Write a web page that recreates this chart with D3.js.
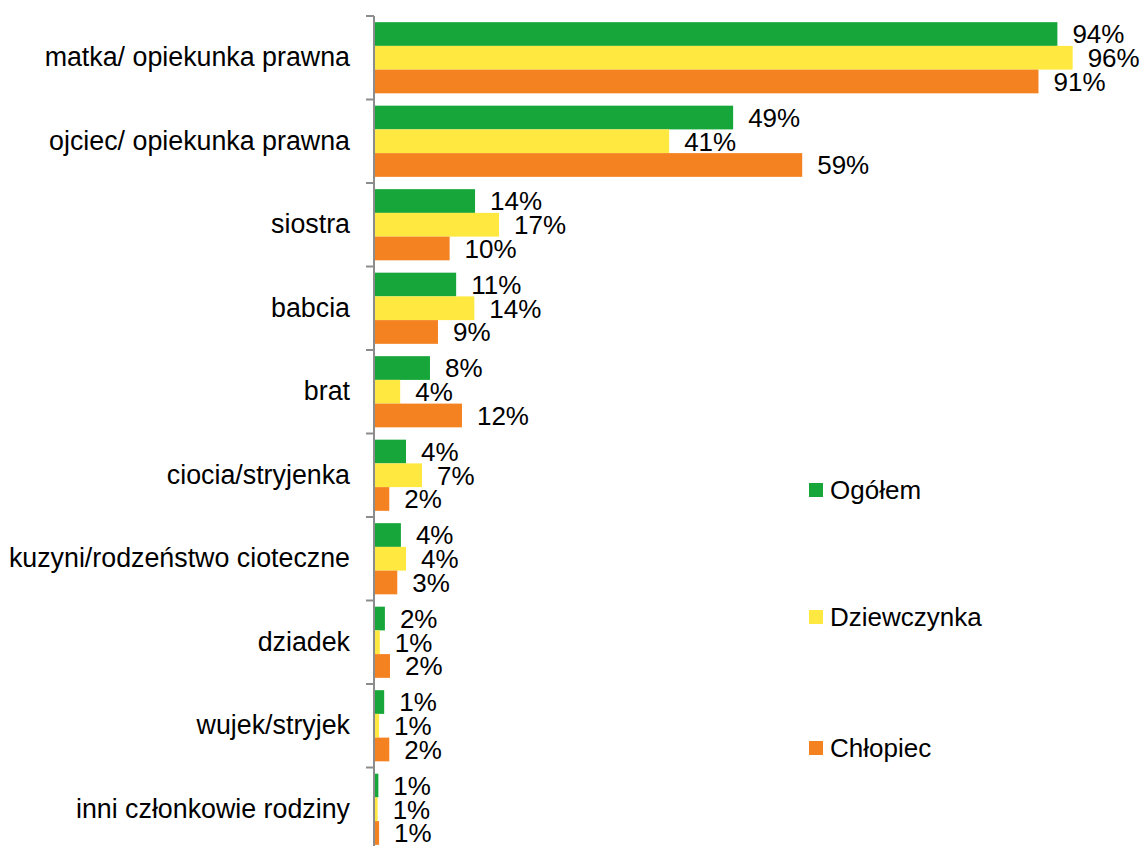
<!DOCTYPE html>
<html>
<head>
<meta charset="utf-8">
<script src="https://cdn.jsdelivr.net/npm/d3@7"></script>
<style>
  body { margin: 0; background: #fff; }
  text { font-family: "Liberation Sans", Arial, sans-serif; fill: #000; }
</style>
</head>
<body>
<div id="chart"></div>
<script>
// categories and series (values in %)
var categories = ["matka/ opiekunka prawna", "ojciec/ opiekunka prawna", "siostra", "babcia", "brat",
  "ciocia/stryjenka", "kuzyni/rodzeństwo cioteczne", "dziadek", "wujek/stryjek", "inni członkowie rodziny"];
var seriesNames = ["Ogółem", "Dziewczynka", "Chłopiec"];
var ogolem = [94.0, 49.4, 13.9, 11.3, 7.7, 4.4, 3.7, 1.5, 1.4, 0.6];
var dziewczynka = [96.1, 40.6, 17.2, 13.8, 3.6, 6.6, 4.4, 0.8, 0.7, 0.5];
var chlopiec = [91.4, 58.9, 10.4, 8.8, 12.1, 2.1, 3.2, 2.2, 2.1, 0.7];
var colors = ["#17a63a", "#ffe83f", "#f58220"];

var width = 1143, height = 846;
var fontSize = "26px";
var svg = d3.select("#chart").append("svg")
  .attr("width", width)
  .attr("height", height);

var x0 = 374;
var topY = 16, band = 83.5;

var x = d3.scaleLinear().domain([0, 100]).range([x0, x0 + 727]);
var y = d3.scaleBand()
  .domain(categories)
  .range([topY, topY + band * categories.length])
  .paddingInner(0).paddingOuter(0);
// inner scale for the three bars in a group
var y1 = d3.scaleBand()
  .domain(seriesNames)
  .range([0, band])
  .paddingOuter(0.26)
  .paddingInner(0);

var rows = categories.map(function (c, i) {
  return { cat: c, vals: [ogolem[i], dziewczynka[i], chlopiec[i]] };
});

var groups = svg.selectAll(".grp")
  .data(rows)
  .enter()
  .append("g")
  .attr("class", "grp")
  .attr("transform", function (d) { return "translate(0," + y(d.cat) + ")"; });

groups.selectAll("rect")
  .data(function (d) { return d.vals.map(function (v, k) { return { v: v, s: seriesNames[k], k: k }; }); })
  .enter()
  .append("rect")
  .attr("x", x(0))
  .attr("y", function (d) { return y1(d.s); })
  .attr("width", function (d) { return x(d.v) - x(0); })
  .attr("height", y1.bandwidth())
  .attr("fill", function (d) { return colors[d.k]; });

groups.selectAll(".lbl")
  .data(function (d) { return d.vals.map(function (v, k) { return { v: v, s: seriesNames[k] }; }); })
  .enter()
  .append("text")
  .attr("class", "lbl")
  .attr("x", function (d) { return x(d.v) + 15; })
  .attr("y", function (d) { return y1(d.s) + y1.bandwidth() / 2; })
  .attr("dy", "0.36em")
  .style("font-size", fontSize)
  .text(function (d) { return Math.round(d.v) + "%"; });

// left axis with category labels
var axis = d3.axisLeft(y).tickSize(0).tickPadding(24);
var ag = svg.append("g")
  .attr("transform", "translate(" + x0 + ",0)")
  .call(axis);
ag.select(".domain").remove();
ag.selectAll("text")
  .style("font-size", "26.8px")
  .style("font-family", "'Liberation Sans', Arial, sans-serif")
  .attr("fill", "#000");

// axis line and boundary ticks
svg.append("line")
  .attr("x1", x0).attr("x2", x0)
  .attr("y1", topY).attr("y2", height)
  .attr("stroke", "#8c8c8c").attr("stroke-width", 2);
var bounds = d3.range(categories.length + 1).map(function (i) { return topY + i * band; });
svg.selectAll(".btick")
  .data(bounds)
  .enter()
  .append("line")
  .attr("x1", x0 - 8).attr("x2", x0)
  .attr("y1", function (d) { return d; })
  .attr("y2", function (d) { return d; })
  .attr("stroke", "#8c8c8c").attr("stroke-width", 2);

// legend
var legendY = [490, 617, 748];
var legend = svg.selectAll(".legend")
  .data(seriesNames)
  .enter()
  .append("g")
  .attr("class", "legend")
  .attr("transform", function (d, i) { return "translate(809," + legendY[i] + ")"; });
legend.append("rect")
  .attr("x", 0).attr("y", -7)
  .attr("width", 14).attr("height", 14)
  .attr("fill", function (d, i) { return colors[i]; });
legend.append("text")
  .attr("x", 21)
  .attr("dy", "0.36em")
  .style("font-size", fontSize)
  .text(function (d) { return d; });
</script>
</body>
</html>
